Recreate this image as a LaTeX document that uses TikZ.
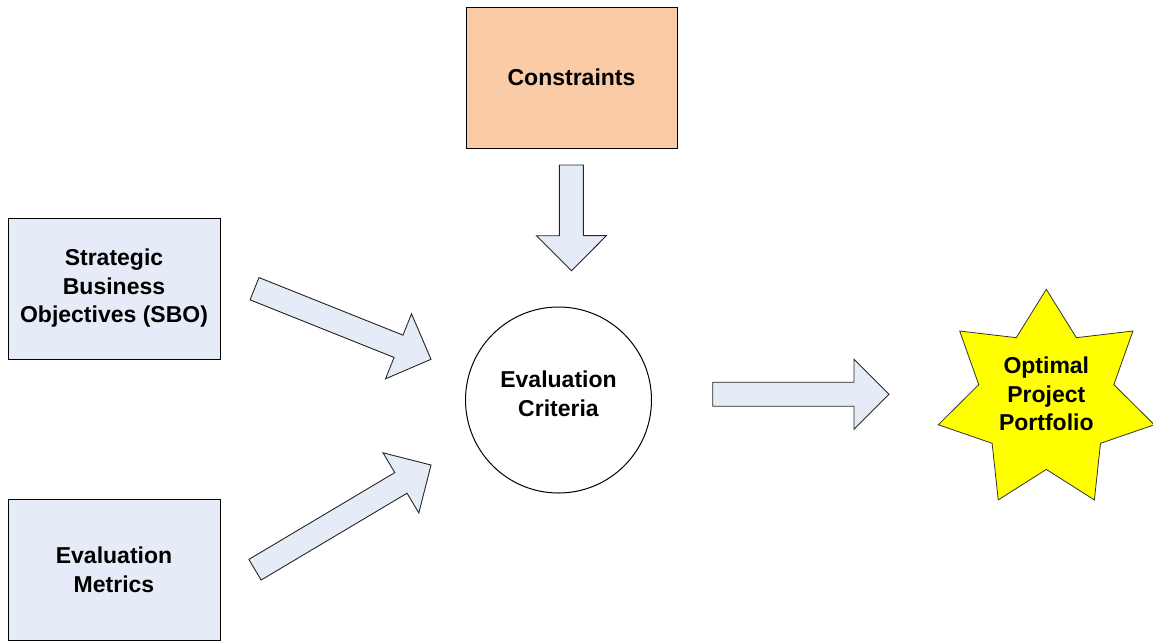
\documentclass[tikz,border=0pt]{standalone}
\usepackage{fontspec}
\setmainfont{Liberation Sans}
\usetikzlibrary{calc}
\definecolor{boxblue}{HTML}{E6ECF7}
\definecolor{peach}{HTML}{F9CCA7}
\definecolor{staryellow}{HTML}{FFFF00}
\tikzset{
  lbl/.style={align=center, inner sep=0pt, font=\fontsize{23}{28.5}\selectfont\bfseries},
  box/.style={lbl, draw=black, line width=1pt, fill=boxblue, minimum width=212pt, minimum height=141pt},
  blockarrow/.style={draw=black!85, line width=0.9pt, fill=boxblue, line join=miter},
  starshape/.style={draw=black!80, line width=0.8pt, fill=staryellow, line join=miter},
}
\newcommand\blockarr[2]{%
  \coordinate (#1h) at ($(#2)!35pt!(#1)$);
  \draw[blockarrow] ($(#1)!12pt!90:(#2)$) -- ($(#1h)!12pt!90:(#2)$) -- ($(#1h)!35pt!90:(#2)$) -- (#2)
    -- ($(#1h)!35pt!-90:(#2)$) -- ($(#1h)!12pt!-90:(#2)$) -- ($(#1)!12pt!-90:(#2)$) -- cycle;}
\begin{document}
\begin{tikzpicture}[x=1pt,y=-1pt]
\useasboundingbox (0,0) rectangle (1153,641);
\node[box] (sbo) at (114,288.5) {Strategic\\Business\\Objectives (SBO)};
\node[box] (met) at (114,570) {Evaluation\\Metrics};
\node[box, fill=peach, minimum width=211pt] (con) at (571.5,77.5) {Constraints};
\node[circle, draw=black, line width=1pt, minimum size=186pt] (crit) at (558.5,400) {};
\node[lbl] (critl) at (558.5,394) {Evaluation\\Criteria};
\coordinate (sc) at (1046.3,400.1);
\draw[starshape] ($(sc)+(90:110.8pt)$)
  \foreach \i in {0,...,6}{ -- ($(sc)+({90+(\i+0.5)*360/7}:69.3pt)$) -- ($(sc)+({90+(\i+1)*360/7}:110.8pt)$) } -- cycle;
\node[lbl] (opt) at (1046.3,394) {Optimal\\Project\\Portfolio};
% block arrows
\coordinate (a1s) at (254.5,288.7); \coordinate (a1e) at (431,359.3);
\coordinate (a2s) at (255,569.7);   \coordinate (a2e) at (431,465);
\coordinate (a3s) at (571.3,165);   \coordinate (a3e) at (571.5,270.7);
\coordinate (a4s) at (712.7,394.2); \coordinate (a4e) at (889,394.2);
\blockarr{a1s}{a1e}
\blockarr{a2s}{a2e}
\blockarr{a3s}{a3e}
\blockarr{a4s}{a4e}
\end{tikzpicture}
\end{document}
